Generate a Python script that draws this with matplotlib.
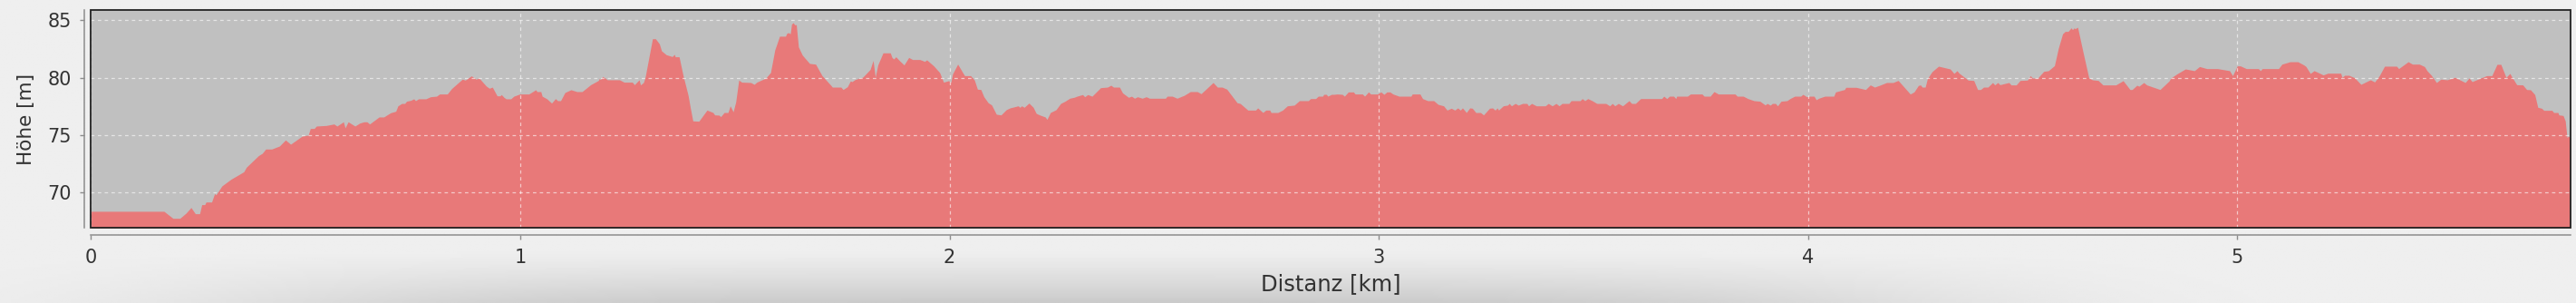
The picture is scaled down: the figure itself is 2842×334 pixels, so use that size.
import numpy as np
import matplotlib
matplotlib.use('Agg')
import matplotlib.pyplot as plt
from matplotlib.patches import Rectangle

# elevation profile (distance in km, height in m)
dist_km = [
    0.000, 0.170, 0.191, 0.207, 0.221, 0.233, 0.243, 0.253, 0.258, 0.265, 0.268, 0.281, 0.288, 0.291,
    0.305, 0.326, 0.344, 0.356, 0.362, 0.390, 0.399, 0.407, 0.421, 0.439, 0.453, 0.465, 0.492, 0.506,
    0.511, 0.520, 0.525, 0.548, 0.566, 0.573, 0.588, 0.592, 0.599, 0.615, 0.626, 0.636, 0.643, 0.649,
    0.671, 0.682, 0.698, 0.710, 0.715, 0.724, 0.731, 0.735, 0.745, 0.752, 0.756, 0.763, 0.780, 0.791,
    0.805, 0.812, 0.830, 0.840, 0.865, 0.872, 0.886, 0.897, 0.904, 0.921, 0.928, 0.935, 0.946, 0.953,
    0.956, 0.962, 0.967, 0.978, 0.985, 0.999, 1.020, 1.036, 1.039, 1.048, 1.051, 1.062, 1.073, 1.082,
    1.087, 1.094, 1.104, 1.118, 1.132, 1.144, 1.164, 1.182, 1.184, 1.187, 1.192, 1.203, 1.231, 1.242,
    1.261, 1.266, 1.277, 1.280, 1.287, 1.291, 1.308, 1.315, 1.324, 1.329, 1.340, 1.354, 1.359, 1.361,
    1.370, 1.379, 1.391, 1.396, 1.402, 1.416, 1.435, 1.449, 1.453, 1.463, 1.467, 1.475, 1.484, 1.489,
    1.496, 1.502, 1.509, 1.516, 1.537, 1.545, 1.551, 1.572, 1.583, 1.593, 1.604, 1.618, 1.621, 1.625,
    1.629, 1.632, 1.636, 1.639, 1.643, 1.648, 1.657, 1.666, 1.674, 1.688, 1.703, 1.724, 1.727, 1.747,
    1.752, 1.762, 1.769, 1.773, 1.780, 1.798, 1.815, 1.822, 1.827, 1.833, 1.845, 1.862, 1.866, 1.870,
    1.875, 1.883, 1.894, 1.905, 1.914, 1.931, 1.942, 1.947, 1.963, 1.977, 1.986, 1.998, 2.003, 2.007,
    2.019, 2.035, 2.049, 2.058, 2.065, 2.073, 2.080, 2.090, 2.098, 2.109, 2.120, 2.132, 2.141, 2.160,
    2.164, 2.168, 2.174, 2.185, 2.195, 2.202, 2.211, 2.223, 2.227, 2.235, 2.248, 2.259, 2.269, 2.280,
    2.290, 2.297, 2.310, 2.315, 2.322, 2.332, 2.352, 2.368, 2.376, 2.382, 2.396, 2.403, 2.417, 2.424,
    2.431, 2.438, 2.449, 2.458, 2.466, 2.503, 2.507, 2.519, 2.530, 2.547, 2.561, 2.577, 2.586, 2.596,
    2.614, 2.624, 2.635, 2.646, 2.670, 2.677, 2.695, 2.713, 2.718, 2.730, 2.737, 2.746, 2.749, 2.765,
    2.776, 2.787, 2.803, 2.815, 2.836, 2.841, 2.853, 2.859, 2.869, 2.872, 2.878, 2.881, 2.890, 2.896,
    2.903, 2.915, 2.920, 2.929, 2.941, 2.945, 2.962, 2.967, 2.976, 2.981, 2.997, 3.005, 3.012, 3.019,
    3.026, 3.033, 3.047, 3.075, 3.078, 3.096, 3.102, 3.114, 3.128, 3.138, 3.151, 3.159, 3.169, 3.177,
    3.184, 3.190, 3.195, 3.204, 3.212, 3.218, 3.226, 3.237, 3.244, 3.258, 3.265, 3.271, 3.276, 3.279,
    3.290, 3.300, 3.304, 3.309, 3.318, 3.325, 3.335, 3.345, 3.349, 3.356, 3.367, 3.388, 3.395, 3.404,
    3.413, 3.420, 3.427, 3.443, 3.448, 3.469, 3.474, 3.480, 3.487, 3.497, 3.508, 3.529, 3.538, 3.544,
    3.550, 3.558, 3.568, 3.575, 3.583, 3.589, 3.598, 3.610, 3.659, 3.664, 3.671, 3.677, 3.687, 3.692,
    3.694, 3.719, 3.726, 3.753, 3.758, 3.772, 3.781, 3.791, 3.830, 3.835, 3.849, 3.860, 3.874, 3.888,
    3.900, 3.905, 3.912, 3.917, 3.924, 3.929, 3.937, 3.951, 3.958, 3.969, 3.983, 3.988, 3.997, 4.004,
    4.014, 4.019, 4.025, 4.039, 4.060, 4.064, 4.085, 4.088, 4.112, 4.134, 4.145, 4.155, 4.169, 4.183,
    4.198, 4.210, 4.238, 4.247, 4.257, 4.262, 4.266, 4.273, 4.278, 4.289, 4.304, 4.331, 4.340, 4.347,
    4.352, 4.373, 4.386, 4.395, 4.402, 4.409, 4.419, 4.430, 4.435, 4.442, 4.447, 4.468, 4.473, 4.485,
    4.494, 4.511, 4.518, 4.523, 4.535, 4.549, 4.560, 4.574, 4.583, 4.593, 4.599, 4.606, 4.613, 4.616,
    4.620, 4.622, 4.628, 4.641, 4.654, 4.662, 4.676, 4.687, 4.717, 4.734, 4.750, 4.755, 4.766, 4.771,
    4.782, 4.789, 4.820, 4.841, 4.845, 4.859, 4.879, 4.900, 4.912, 4.929, 4.954, 4.982, 4.989, 5.000,
    5.007, 5.021, 5.049, 5.054, 5.058, 5.096, 5.104, 5.123, 5.141, 5.155, 5.160, 5.170, 5.179, 5.193,
    5.200, 5.211, 5.241, 5.244, 5.250, 5.260, 5.273, 5.288, 5.310, 5.320, 5.331, 5.343, 5.371, 5.376,
    5.398, 5.408, 5.424, 5.436, 5.442, 5.452, 5.464, 5.474, 5.489, 5.507, 5.531, 5.540, 5.547, 5.581,
    5.593, 5.605, 5.614, 5.626, 5.635, 5.639, 5.651, 5.665, 5.674, 5.683, 5.693, 5.700, 5.709, 5.714,
    5.733, 5.737, 5.747, 5.749, 5.759, 5.764, 5.768, 5.771, 5.776,
]
elev_m = [
    68.37, 68.37, 67.76, 67.76, 68.20, 68.70, 68.16, 68.16, 68.95, 68.95, 69.18, 69.18, 69.92, 69.80,
    70.58, 71.16, 71.55, 71.82, 72.21, 73.21, 73.42, 73.79, 73.79, 74.05, 74.58, 74.21, 74.92, 75.00,
    75.58, 75.58, 75.79, 75.84, 75.97, 75.79, 76.16, 75.63, 76.16, 75.79, 76.05, 76.16, 76.16, 75.97,
    76.58, 76.58, 76.95, 77.08, 77.55, 77.76, 77.76, 77.95, 78.03, 78.16, 78.00, 78.16, 78.16, 78.34,
    78.39, 78.58, 78.58, 79.05, 79.87, 79.79, 80.16, 79.87, 79.97, 79.26, 79.08, 79.18, 78.42, 78.42,
    78.53, 78.29, 78.16, 78.16, 78.39, 78.58, 78.58, 78.95, 78.79, 78.79, 78.39, 78.16, 77.79, 78.18,
    78.00, 78.00, 78.71, 78.95, 78.79, 78.79, 79.39, 79.76, 79.92, 79.84, 80.11, 79.82, 79.82, 79.61,
    79.61, 79.39, 79.82, 79.37, 79.58, 80.05, 83.39, 83.39, 82.95, 82.34, 82.00, 81.84, 82.03, 81.82,
    81.82, 80.24, 78.47, 77.42, 76.24, 76.21, 77.18, 76.97, 76.76, 76.74, 76.61, 76.97, 76.97, 77.55,
    77.03, 77.89, 79.79, 79.61, 79.58, 79.42, 79.61, 79.97, 80.45, 82.42, 83.61, 83.61, 83.87, 83.92,
    83.82, 84.66, 84.79, 84.61, 84.61, 82.68, 81.97, 81.58, 81.24, 81.18, 80.18, 79.32, 79.18, 79.18,
    78.97, 79.21, 79.71, 79.66, 79.84, 80.05, 80.71, 81.50, 80.05, 81.11, 82.16, 82.16, 81.76, 81.63,
    81.82, 81.50, 81.11, 81.76, 81.58, 81.58, 81.42, 81.55, 81.03, 80.45, 79.61, 79.74, 79.58, 80.32,
    81.18, 80.18, 80.18, 79.79, 79.00, 78.97, 78.34, 77.82, 77.63, 76.82, 76.76, 77.21, 77.37, 77.55,
    77.42, 77.55, 77.42, 77.79, 77.42, 76.89, 76.74, 76.58, 76.37, 76.97, 77.21, 77.76, 77.95, 78.21,
    78.29, 78.39, 78.53, 78.34, 78.53, 78.39, 79.13, 79.18, 79.34, 79.18, 79.18, 78.68, 78.29, 78.39,
    78.21, 78.34, 78.21, 78.34, 78.21, 78.21, 78.39, 78.39, 78.21, 78.47, 78.79, 78.79, 78.61, 78.95,
    79.58, 79.18, 79.18, 79.00, 77.82, 77.76, 77.18, 77.18, 77.37, 76.97, 77.18, 77.18, 76.97, 76.97,
    77.18, 77.55, 77.61, 78.00, 78.00, 78.18, 78.18, 78.39, 78.39, 78.55, 78.55, 78.39, 78.55, 78.55,
    78.58, 78.55, 78.39, 78.76, 78.76, 78.58, 78.58, 78.39, 78.76, 78.58, 78.58, 78.76, 78.55, 78.76,
    78.76, 78.58, 78.39, 78.39, 78.58, 78.58, 78.18, 78.00, 78.00, 77.68, 77.55, 77.18, 77.34, 77.18,
    77.37, 77.18, 77.37, 76.97, 77.37, 77.34, 76.97, 76.97, 76.76, 77.34, 77.37, 77.18, 77.37, 77.18,
    77.55, 77.61, 77.76, 77.55, 77.76, 77.61, 77.76, 77.76, 77.55, 77.76, 77.55, 77.55, 77.76, 77.55,
    77.76, 77.55, 77.76, 77.76, 78.00, 78.00, 78.18, 78.00, 78.18, 78.00, 77.76, 77.76, 77.55, 77.76,
    77.55, 77.76, 77.55, 77.76, 78.00, 77.76, 77.76, 78.18, 78.18, 78.39, 78.18, 78.39, 78.39, 78.18,
    78.39, 78.39, 78.58, 78.58, 78.39, 78.39, 78.79, 78.58, 78.58, 78.39, 78.39, 78.18, 78.00, 77.95,
    77.63, 77.76, 77.61, 77.76, 77.76, 77.55, 77.95, 78.00, 78.18, 78.39, 78.39, 78.55, 78.34, 78.39,
    78.39, 78.08, 78.21, 78.39, 78.39, 78.76, 78.97, 79.16, 79.16, 78.97, 79.37, 79.18, 79.37, 79.58,
    79.58, 79.76, 78.58, 78.76, 79.32, 79.37, 79.18, 79.18, 79.92, 80.53, 81.00, 80.76, 80.37, 80.61,
    80.39, 79.79, 79.76, 78.97, 78.97, 79.18, 79.18, 79.58, 79.37, 79.58, 79.39, 79.58, 79.37, 79.37,
    79.76, 79.79, 80.18, 79.97, 79.97, 80.55, 80.61, 81.05, 82.55, 83.82, 84.03, 84.03, 84.34, 84.18,
    84.34, 84.26, 84.39, 82.16, 80.00, 79.82, 79.76, 79.37, 79.37, 79.74, 78.97, 78.97, 79.34, 79.26,
    79.58, 79.37, 78.97, 79.71, 79.97, 80.32, 80.76, 80.61, 80.97, 80.79, 80.79, 80.61, 80.18, 81.03,
    81.03, 80.79, 80.79, 80.61, 80.79, 80.79, 81.18, 81.39, 81.39, 81.11, 80.97, 80.37, 80.61, 80.37,
    80.24, 80.39, 80.39, 80.03, 80.21, 80.21, 80.00, 79.42, 79.82, 79.63, 80.18, 81.00, 81.00, 80.79,
    81.39, 81.18, 81.18, 80.97, 80.61, 80.21, 79.58, 79.87, 79.82, 80.03, 79.58, 79.97, 79.66, 80.18,
    80.18, 81.16, 81.16, 80.03, 80.37, 80.11, 79.39, 79.37, 78.97, 78.95, 78.53, 77.42, 77.34, 77.16,
    77.16, 76.97, 76.97, 76.76, 76.71, 76.24, 74.79, 74.92, 74.79,
]

x_ticks = [0, 1, 2, 3, 4, 5]
y_ticks = [70, 75, 80, 85]

W, H = 2842, 334
fig = plt.figure(figsize=(W / 100, H / 100), dpi=100)
fig.patch.set_facecolor('#efefef')

# soft shadow band along the bottom of the window
bg = fig.add_axes([0, 0, 1, 1], zorder=-10)
gx = np.linspace(0, 1, 600)
gy = np.linspace(0, 1, 120)
GX, GY = np.meshgrid(gx, gy)
shade = np.exp(-((GX - 0.42) / 0.33) ** 4) * np.clip((GY - 0.83) / 0.17, 0, 1) ** 1.2
bg.imshow(239 - 36 * shade, cmap='gray', vmin=0, vmax=255, aspect='auto',
          extent=[0, 1, 1, 0], interpolation='bilinear')
bg.set_axis_off()

ax = fig.add_axes([100.4 / W, (H - 251.3) / H, (2836.3 - 100.4) / W, 240.0 / H])
ax.set_facecolor('#c0c0c0')
ax.fill_between(dist_km, elev_m, 60, color='#e87979', lw=0, zorder=2)

ax.set_xlim(0, 5.777)
ax.set_ylim(66.92, 85.87)
ax.set_xticks(x_ticks)
ax.set_yticks(y_ticks)
ax.grid(True, color='white', lw=0.9, alpha=0.6, linestyle=(0, (3, 3)), zorder=3)
ax.set_axisbelow(False)

# dark frame round the plot, axis lines drawn a little outside
ax.add_patch(Rectangle((0, 0), 1, 1, transform=ax.transAxes, fill=False,
                       ec='#222222', lw=1.3, zorder=5, clip_on=False))
for s in ['top', 'right']:
    ax.spines[s].set_visible(False)
for s in ['left', 'bottom']:
    ax.spines[s].set_position(('outward', 5.5))
    ax.spines[s].set_color('#8c8c8c')
    ax.spines[s].set_linewidth(1.1)

ax.tick_params(axis='both', colors='#8c8c8c', length=3.3, width=1.0,
               labelsize=15, labelcolor='#333333')
ax.tick_params(axis='y', pad=6.5)
ax.tick_params(axis='x', pad=7.5)

ax.set_xlabel('Distanz [km]', fontsize=17.5, color='#333333', labelpad=5)
ax.set_ylabel('Höhe [m]', fontsize=15.5, color='#333333', labelpad=10)

fig.savefig('out.png', dpi=100, facecolor=fig.get_facecolor())
